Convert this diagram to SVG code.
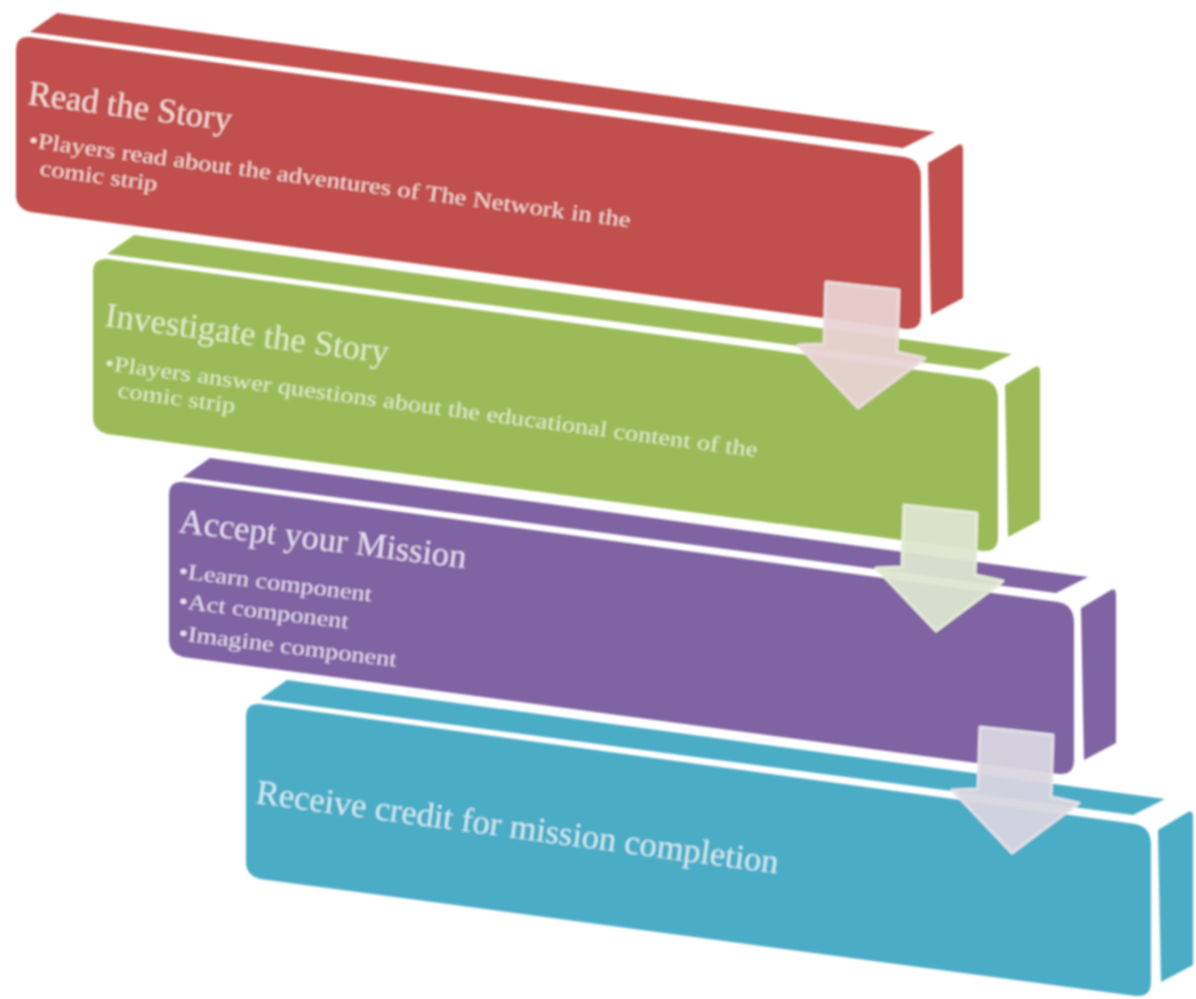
<svg xmlns="http://www.w3.org/2000/svg" xmlns:xlink="http://www.w3.org/1999/xlink" width="1196" height="999" viewBox="0 0 1196 999">
<style>
text{font-family:"Liberation Serif","Times New Roman",serif}
.t{font-size:34.5px}
.b{font-size:22px}
.r text{fill:#f5dcd8}.g text{fill:#e2edcb}.p text{fill:#e8dff2}.c text{fill:#d2ecf3}
.arrow{stroke-width:3;stroke-linejoin:round}
</style>
<defs>
<filter id="soft" x="-5%" y="-5%" width="110%" height="110%"><feGaussianBlur stdDeviation="0.8"/></filter>
<g id="box">
<path d="M30,32 L57,13 L935,132 L903,148 Z"/>
<path d="M30,37 L905,157 Q921,160 921,178 L921,315 Q921,330 906,329 L30,212 Q16,208 16,195 L16,50 Q16,36 30,37 Z"/>
<path d="M928,163 L958,145 Q963,143 963,150 L963,298 L931,315 Z"/>
</g>
<path id="arr" d="M826,282 L899,290 L897,352 L925,358 L858,408 L798,345 L824,344 Z"/>
</defs>
<rect width="1196" height="999" fill="#fff"/>
<g filter="url(#soft)">
<g id="node-read" class="r">
<use xlink:href="#box" href="#box" fill="#c0504d"/>
<text class="t" transform="translate(27,104) rotate(7.5)">Read the Story</text>
<text class="b" transform="translate(28,147) rotate(7.6) scale(1.205,1)">•Players read about the adventures of The Network in the</text>
<text class="b" transform="translate(39,175) rotate(7.8) scale(1.205,1)">comic strip</text>
</g>
<g id="node-investigate" class="g">
<use xlink:href="#box" href="#box" x="77" y="222" fill="#9bbb59"/>
<text class="t" transform="translate(104,326) rotate(7.5)">Investigate the Story</text>
<text class="b" transform="translate(104,370) rotate(7.6) scale(1.2,1)">•Players answer questions about the educational content of the</text>
<text class="b" transform="translate(117,397) rotate(7.8) scale(1.205,1)">comic strip</text>
</g>
<g id="node-accept" class="p">
<use xlink:href="#box" href="#box" x="153" y="445" fill="#8064a2"/>
<text class="t" transform="translate(178,532) rotate(7.2)">Accept your Mission</text>
<text class="b" transform="translate(178,578) rotate(6.9) scale(1.2,1)">•Learn component</text>
<text class="b" transform="translate(178,608) rotate(6.9) scale(1.2,1)">•Act component</text>
<text class="b" transform="translate(178,640) rotate(7) scale(1.2,1)">•Imagine component</text>
</g>
<g id="node-receive" class="c">
<use xlink:href="#box" href="#box" x="230" y="667" fill="#4bacc6"/>
<text class="t" transform="translate(255,803) rotate(7.7)">Receive credit for mission completion</text>
</g>
<g id="connectors">
<use xlink:href="#arr" href="#arr" class="arrow" fill="#e8d2d2" fill-opacity=".94" stroke="#ebdcdc"/>
<use xlink:href="#arr" href="#arr" class="arrow" x="78" y="223" fill="#dde5cf" fill-opacity=".94" stroke="#e4ebd8"/>
<use xlink:href="#arr" href="#arr" class="arrow" x="154" y="445" fill="#d9d6e0" fill-opacity=".94" stroke="#e2e0e8"/>
</g>
</g>
</svg>
